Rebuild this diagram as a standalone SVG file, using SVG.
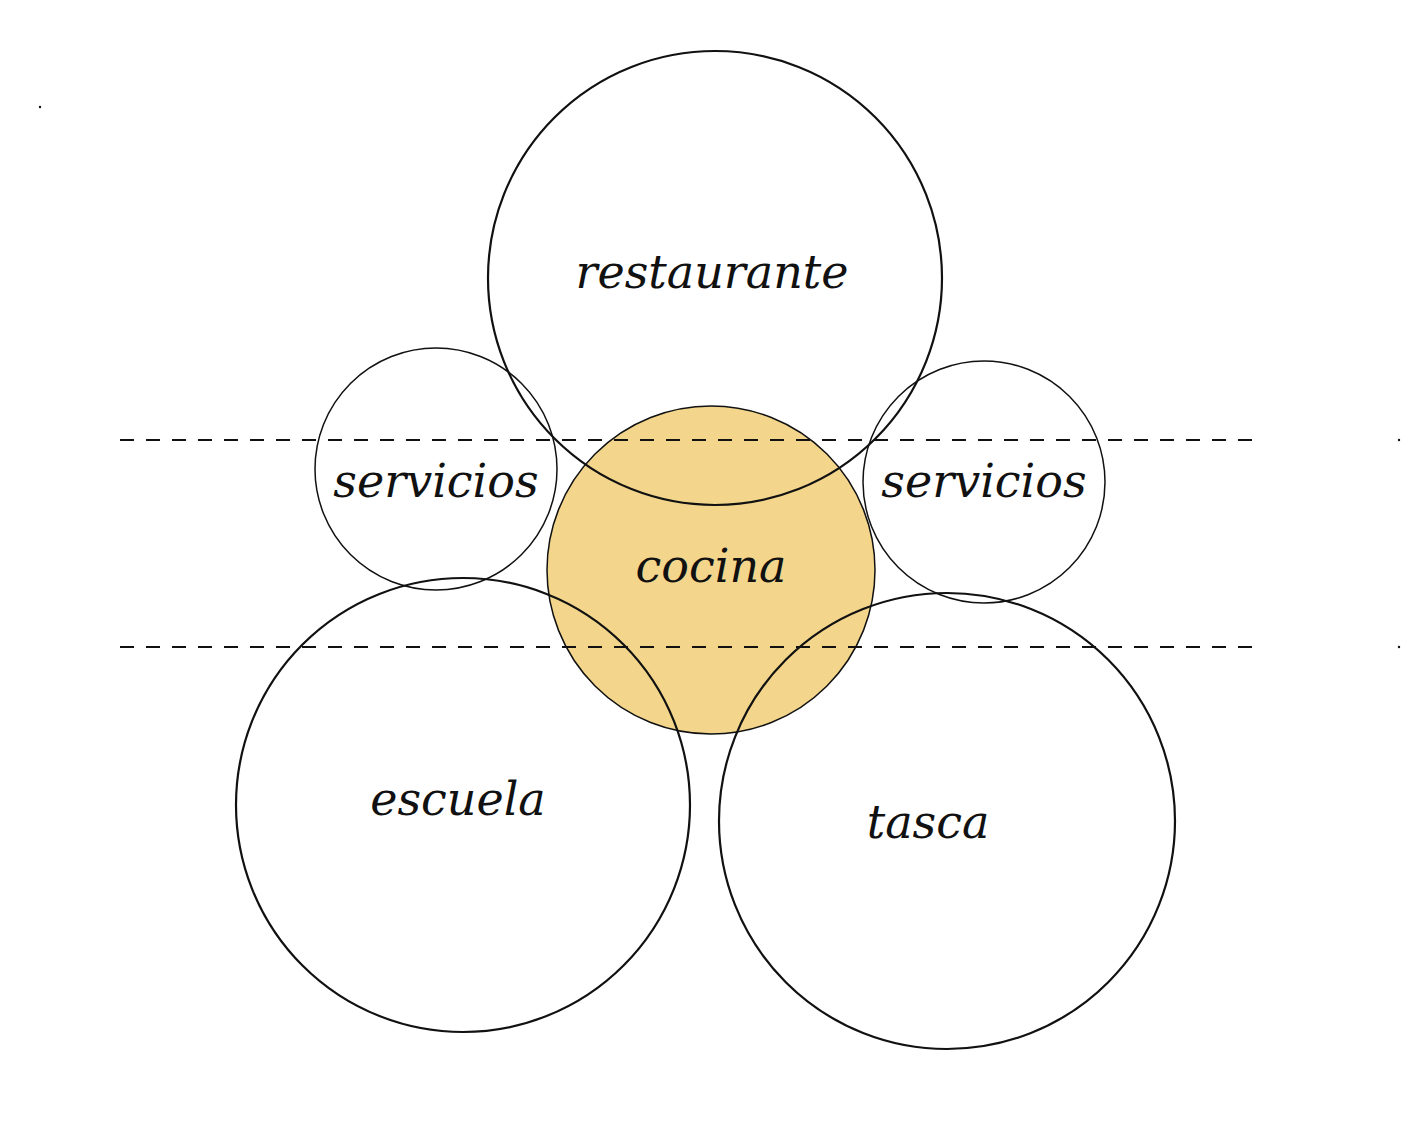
<svg xmlns="http://www.w3.org/2000/svg" width="1401" height="1134" viewBox="0 0 1401 1134">
<style>
.c{fill:none;stroke:#111;stroke-width:2.2}
.t{font-family:"DejaVu Serif",serif;font-style:italic;font-size:46px;fill:#111;text-anchor:middle}
.d{stroke:#111;stroke-width:2;stroke-dasharray:14,12;fill:none}
</style>
<rect width="1401" height="1134" fill="#fff"/>
<g id="cocina"><circle cx="711" cy="570" r="164" fill="#f3d68c"/><circle class="c" cx="711" cy="570" r="164" style="stroke-width:1.5"/><text class="t" x="711" y="582">cocina</text></g>
<g id="restaurante"><circle class="c" cx="715" cy="278" r="227"/><text class="t" x="712" y="288">restaurante</text></g>
<g id="servicios-izq"><circle class="c" cx="436" cy="469" r="121" style="stroke-width:1.5"/><text class="t" x="436" y="497">servicios</text></g>
<g id="servicios-der"><circle class="c" cx="984" cy="482" r="121" style="stroke-width:1.5"/><text class="t" x="984" y="497">servicios</text></g>
<g id="escuela"><circle class="c" cx="463" cy="805" r="227"/><text class="t" x="458" y="815">escuela</text></g>
<g id="tasca"><circle class="c" cx="947" cy="821" r="228"/><text class="t" x="928" y="838">tasca</text></g>
<g id="connectors">
<line class="d" x1="120" y1="440" x2="1255" y2="440"/>
<line class="d" x1="120" y1="647" x2="1255" y2="647"/>
</g>
<circle cx="40" cy="107" r="1.2" fill="#111"/>
<circle cx="1399" cy="440" r="1.2" fill="#111"/>
<circle cx="1399" cy="647" r="1.2" fill="#111"/>
</svg>
